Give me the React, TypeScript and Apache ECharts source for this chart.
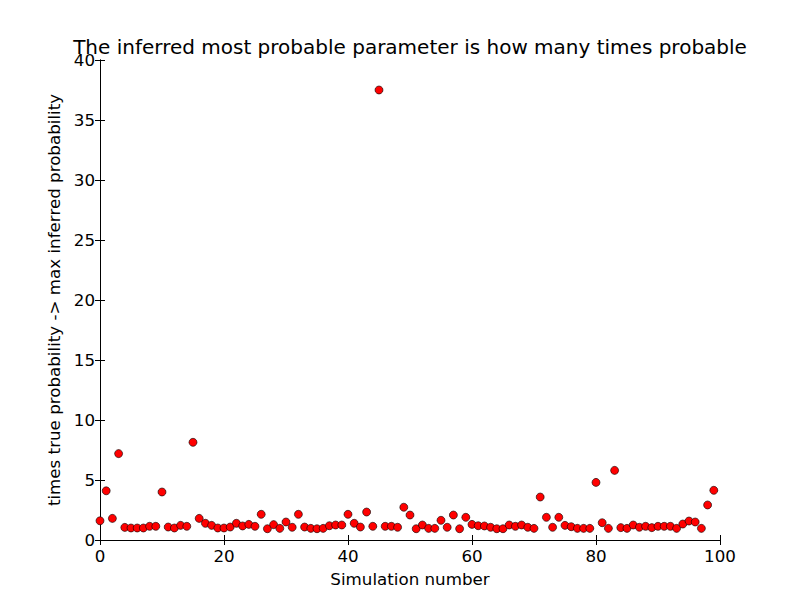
import React, { useEffect, useRef } from 'react';
import * as echarts from 'echarts';

// ratio of max inferred probability to true probability, one per simulation run
const ratios = [
  1.6, 4.1, 1.8, 7.2, 1.05, 1.0, 1.0, 1.0, 1.14, 1.14,
  4.0, 1.08, 1.0, 1.22, 1.14, 8.14, 1.8, 1.39, 1.22, 1.0,
  1.0, 1.08, 1.39, 1.17, 1.3, 1.14, 2.14, 0.94, 1.28, 0.97,
  1.5, 1.06, 2.14, 1.08, 0.97, 0.94, 0.97, 1.19, 1.25, 1.25,
  2.14, 1.39, 1.08, 2.33, 1.14, 37.5, 1.14, 1.14, 1.06, 2.73,
  2.08, 0.94, 1.25, 0.97, 0.97, 1.64, 1.06, 2.08, 0.94, 1.89,
  1.3, 1.19, 1.17, 1.06, 0.94, 0.94, 1.25, 1.14, 1.25, 1.06,
  0.97, 3.58, 1.89, 1.06, 1.89, 1.22, 1.11, 0.97, 0.97, 0.97,
  4.8, 1.44, 0.97, 5.8, 1.03, 0.97, 1.25, 1.06, 1.14, 1.03,
  1.14, 1.14, 1.14, 0.97, 1.33, 1.58, 1.5, 0.97, 2.92, 4.14,
];

const xTicks = { min: 0, max: 100, interval: 20 };
const yTicks = { min: 0, max: 40, interval: 5 };

const FONT = 'DejaVu Sans';

const App: React.FC = () => {
  const chartRef = useRef<HTMLDivElement>(null);

  useEffect(() => {
    if (!chartRef.current) return;
    const chart = echarts.init(chartRef.current, undefined, { renderer: 'svg' });

    const boxAxis = {
      axisLine: { show: true, lineStyle: { color: '#000', width: 1 } },
      axisTick: { show: true, inside: true, length: 5, lineStyle: { color: '#000' } },
      splitLine: { show: false },
    };

    const option = {
      animation: false,
      backgroundColor: '#fff',
      textStyle: { fontFamily: FONT },
      graphic: [
        {
          type: 'text',
          x: 410,
          y: 47,
          style: {
            text: 'The inferred most probable parameter is how many times probable',
            fontFamily: FONT,
            fontSize: 20,
            fill: '#000',
            textAlign: 'center',
            textVerticalAlign: 'middle',
          },
        },
      ],
      grid: { left: 100, right: 80, top: 60, bottom: 60, containLabel: false },
      xAxis: [
        {
          type: 'value',
          position: 'bottom',
          ...xTicks,
          ...boxAxis,
          name: 'Simulation number',
          nameLocation: 'middle',
          nameGap: 30,
          nameTextStyle: { fontFamily: FONT, fontSize: 16.7, color: '#000' },
          axisLabel: { color: '#000', fontFamily: FONT, fontSize: 16.7, margin: 7 },
        },
        {
          type: 'value',
          position: 'top',
          ...xTicks,
          ...boxAxis,
          axisLabel: { show: false },
        },
      ],
      yAxis: [
        {
          type: 'value',
          position: 'left',
          ...yTicks,
          ...boxAxis,
          name: 'times true probability -> max inferred probability',
          nameLocation: 'middle',
          nameGap: 27,
          nameTextStyle: { fontFamily: FONT, fontSize: 16.7, color: '#000' },
          axisLabel: { color: '#000', fontFamily: FONT, fontSize: 16.7, margin: 5 },
        },
        {
          type: 'value',
          position: 'right',
          ...yTicks,
          ...boxAxis,
          axisLabel: { show: false },
        },
      ],
      series: [
        {
          type: 'scatter',
          data: ratios.map((v, i) => [i, v]),
          symbol: 'circle',
          symbolSize: 8,
          itemStyle: { color: '#ff0000', borderColor: '#000', borderWidth: 0.6, opacity: 1 },
        },
      ],
    };

    chart.setOption(option);

    return () => {
      chart.dispose();
    };
  }, []);

  return (
    <div
      ref={chartRef}
      style={{ position: 'absolute', left: 0, top: 0, width: '800px', height: '600px' }}
    />
  );
};

export default App;
